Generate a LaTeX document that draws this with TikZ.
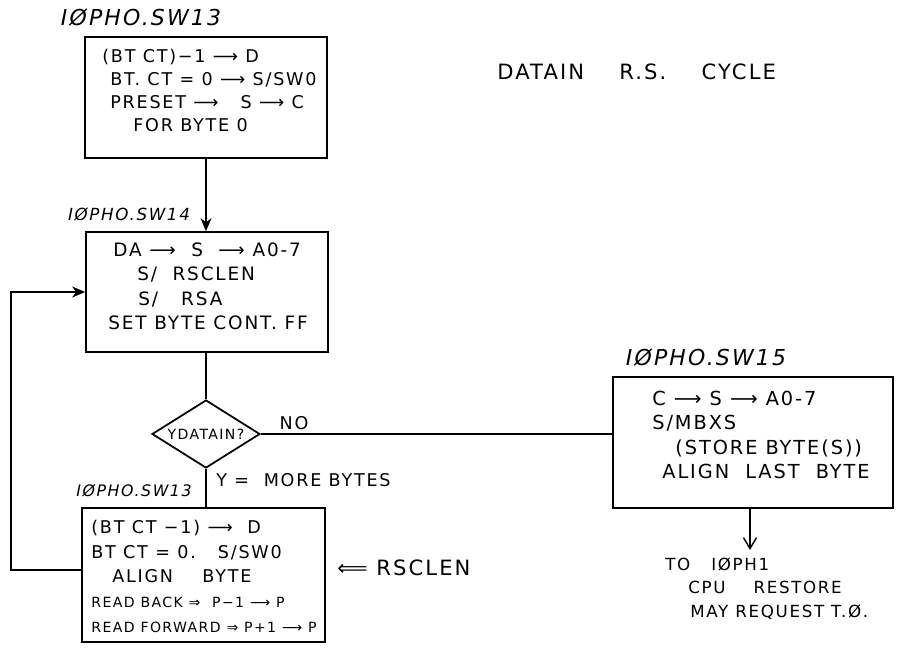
\documentclass[tikz,border=0pt]{standalone}
\usepackage{fontspec}
\setmainfont{DejaVu Sans}[LetterSpace=10]
\usetikzlibrary{shapes.geometric,arrows.meta,positioning}
\tikzset{
	flowbox/.style={rectangle, draw=black, line width=1pt, inner sep=0pt},
	boxtext/.style={anchor=north west, align=left, inner sep=0pt},
	swlabel/.style={font=\fontsize{12.5}{14}\selectfont\itshape, inner sep=0pt},
	flowarr/.style={-{Stealth[length=2.6mm,width=2.2mm]}, line width=1pt},
	openarr/.style={-{Straight Barb[length=2.2mm,width=2.6mm]}, line width=0.8pt},
	flowline/.style={line width=1pt},
	decision/.style={diamond, draw=black, line width=1pt, aspect=1.6, inner sep=0pt,
		minimum width=2.16cm, minimum height=1.36cm, font=\fontsize{8}{9}\selectfont},
	edgelabel/.style={font=\fontsize{10}{12}\selectfont, inner sep=0pt}
}
\begin{document}
\begin{tikzpicture}[x=0.02cm, y=-0.02cm]
	\useasboundingbox (0,0) rectangle (899,650);
	% boxes
	\node[flowbox, minimum width=4.84cm, minimum height=2.42cm] (b1) at (206,97.5) {};
	\node[flowbox, minimum width=4.84cm, minimum height=2.4cm] (b2) at (207,292) {};
	\node[decision] (dec) at (206,434) {YDATAIN?};
	\node[flowbox, minimum width=4.86cm, minimum height=2.68cm] (b4) at (203.5,575) {};
	\node[flowbox, minimum width=5.6cm, minimum height=2.62cm] (b3) at (753,442.5) {};
	% texts in the boxes
	\node[boxtext, font=\fontsize{10}{13}\selectfont] (t1) at (102,49)
		{(BT CT)−1 ⟶ D\\ \hspace{0.16cm}BT. CT = 0 ⟶ S/SW0\\
		\hspace{0.16cm}PRESET ⟶\ \ \ S ⟶ C\\ \hspace{0.62cm}FOR BYTE 0};
	\node[boxtext, font=\fontsize{10.5}{14}\selectfont] (t2) at (108,242)
		{\hspace{0.1cm}DA ⟶\ \ S\ \ ⟶ A0-7\\ \hspace{0.58cm}S/\ \ RSCLEN\\
		\hspace{0.6cm}S/\ \ \ RSA\\ SET BYTE CONT. FF};
	\node[boxtext, font=\fontsize{11}{13.8}\selectfont] (t3) at (652,391)
		{C ⟶ S ⟶ A0-7\\ S/MBXS\\ \hspace{0.46cm}(STORE BYTE(S))\\ \hspace{0.2cm}ALIGN\ \ LAST\ \ BYTE};
	\node[boxtext, font=\fontsize{10}{14}\selectfont] (t4) at (91,520)
		{(BT CT −1)\ ⟶\ \ D\\ BT CT = 0.\ \ \ S/SW0\\ \hspace{0.42cm}ALIGN\ \ \ \ BYTE\\
		{\fontsize{8}{14}\selectfont READ BACK\ ⇒\ \ P−1 ⟶ P}\\
		{\fontsize{8}{14}\selectfont READ FORWARD ⇒ P+1 ⟶ P}};
	% labels
	\node[swlabel] (l1) at (141,17) {IØPHO.SW13};
	\node[swlabel, font=\fontsize{9.5}{11}\selectfont\itshape] (l2) at (129,214) {IØPHO.SW14};
	\node[swlabel] (l3) at (706,357) {IØPHO.SW15};
	\node[swlabel, font=\fontsize{9}{11}\selectfont\itshape] (l4) at (134,491) {IØPHO.SW13};
	\node[edgelabel, font=\fontsize{12}{14}\selectfont, anchor=west] (title) at (497,72)
		{DATAIN\ \ \ \ R.S.\ \ \ \ CYCLE};
	\node[edgelabel] (no) at (294,423) {NO};
	\node[edgelabel, anchor=west] (yes) at (216,480) {Y\ = \ MORE BYTES};
	\node[edgelabel, font=\fontsize{12}{14}\selectfont, anchor=west] (rsclen) at (337,568) {⟸\ RSCLEN};
	\node[boxtext, font=\fontsize{9.5}{13.5}\selectfont] (note) at (665,557)
		{TO\ \ \ IØPH1\\ \hspace{0.46cm}CPU\ \ \ \ RESTORE\\ \hspace{0.5cm}MAY REQUEST T.Ø.};
	% connectors
	\draw[flowarr] (dec.north |- b1.south) -- (dec.north |- b2.north);
	\draw[flowline] (dec.north |- b2.south) -- (dec.north);
	\draw[flowline] (dec.east) -- (dec.east -| b3.west);
	\draw[flowline] (dec.south) -- (dec.south |- b4.north);
	\draw[flowarr] ([yshift=0.1cm]b4.west) -- ++(-70,0) |- (b2.west);
	\draw[openarr] (b3.south -| 750,0) -- (750,550);
\end{tikzpicture}
\end{document}
